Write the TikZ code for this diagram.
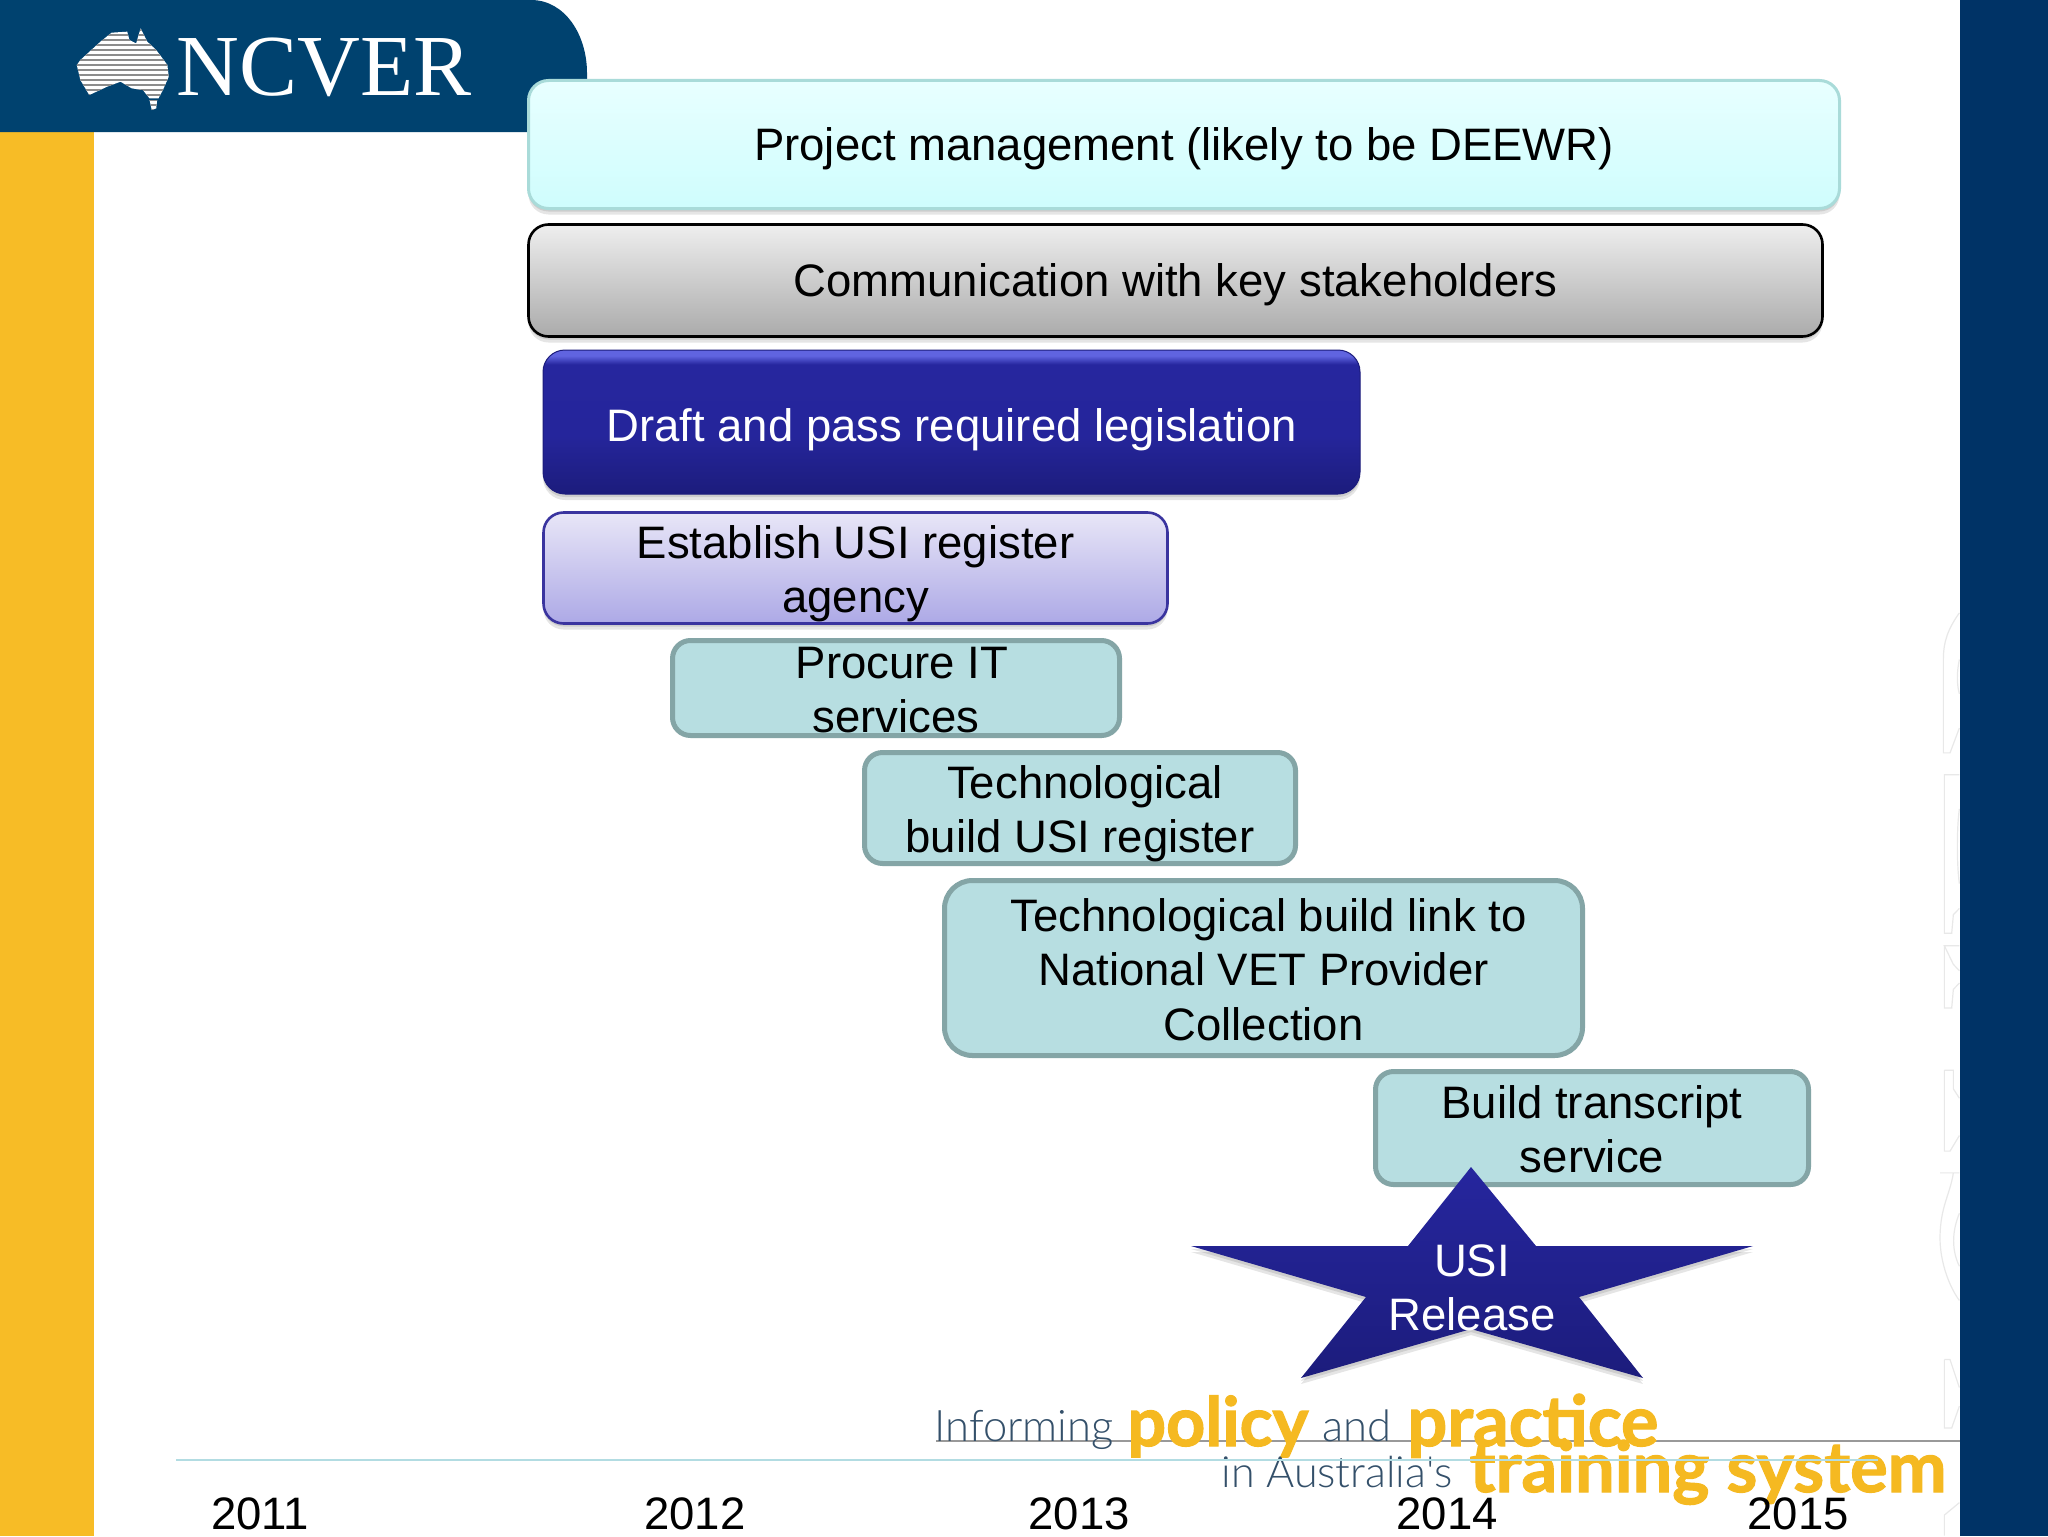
\documentclass[tikz,border=0pt]{standalone}
\usepackage{fontspec}
\usepackage{graphicx}
\usetikzlibrary{shadows}
\setmainfont{Liberation Sans}
\newfontfamily\ncverfont{Liberation Serif}
\newfontfamily\tagfont{Lato Light}
\newfontfamily\tagheavy[BoldFeatures={FakeBold=1.6}]{Lato}
\definecolor{bannerblue}{HTML}{00426F}
\definecolor{panelblue}{HTML}{003366}
\definecolor{baryellow}{HTML}{F7BC26}
\definecolor{tealfill}{HTML}{B7DEE1}
\definecolor{tealline}{HTML}{84A5A6}
\definecolor{tagdark}{HTML}{34506A}
\definecolor{taggold}{HTML}{F5B921}
\definecolor{ruleteal}{HTML}{B2DCE2}
\definecolor{g3dark}{HTML}{1C1C7C}
\definecolor{g3mid}{HTML}{26269E}
\definecolor{g3light}{HTML}{6064E0}
\definecolor{HTMLmgmt}{HTML}{A9DBD9}
\definecolor{HTMLmgmtT}{HTML}{E8FFFF}
\definecolor{HTMLmgmtB}{HTML}{CFFDFD}
\definecolor{HTMLcommT}{HTML}{EEEEEE}
\definecolor{HTMLcommB}{HTML}{ABABAB}
\definecolor{HTMLreg}{HTML}{3A349F}
\definecolor{HTMLregT}{HTML}{E8E6F7}
\definecolor{HTMLregB}{HTML}{ADA9E6}
\pgfdeclareverticalshading{legisshade}{100bp}{color(0bp)=(g3dark); color(25bp)=(g3dark); color(45bp)=(g3mid!90!g3dark); color(70bp)=(g3mid); color(73bp)=(g3light); color(75bp)=(g3light); color(100bp)=(g3light)}
\tikzset{
  softshadow/.style={general shadow={fill=black,opacity=.10,shadow yshift=-1.5pt},general shadow={fill=black,opacity=.10,shadow yshift=-3pt}},
  boxbase/.style={draw,inner sep=0pt,outer sep=0pt},
  mgmtbox/.style={boxbase,softshadow,draw=HTMLmgmt,line width=1.5pt,top color=HTMLmgmtT,bottom color=HTMLmgmtB,rounded corners=10pt},
  commbox/.style={boxbase,softshadow,draw=black,line width=1.3pt,top color=HTMLcommT,bottom color=HTMLcommB,rounded corners=10pt},
  legisbox/.style={boxbase,softshadow,draw=g3dark,line width=.5pt,shading=legisshade,rounded corners=11pt},
  regbox/.style={boxbase,softshadow,draw=HTMLreg,line width=1.3pt,top color=HTMLregT,bottom color=HTMLregB,rounded corners=10pt},
  buildbox/.style={boxbase,draw=tealline,line width=2.5pt,fill=tealfill,rounded corners=9pt},
  boxtext/.style={align=center,inner sep=0pt,font=\fontsize{22.75}{27.2}\selectfont},
  yearlabel/.style={anchor=base,inner sep=0pt,font=\fontsize{22.75}{27}\selectfont},
  taglabel/.style={anchor=base west,inner sep=0pt},
  faintline/.style={draw=black!9,line width=.6pt},
}
\begin{document}
\begin{tikzpicture}[x=0.5pt,y=-0.5pt]
\useasboundingbox (0,0) rectangle (2048,1536);
\fill[white] (0,0) rectangle (2048,1536);

% side bars and banner
\fill[baryellow] (0,132) rectangle (94,1536);
\fill[panelblue] (1960,0) rectangle (2048,1536);
\fill[bannerblue] (0,0) -- (531,0) .. controls (565,0) and (587,35) .. (587,73) -- (587,132) -- (0,132) -- cycle;

% faint watermark at the right edge
\begin{scope}[shift={(1900,560)},x=0.1667pt,y=-0.3111pt]
  \draw[faintline] (178,85) .. controls (145,110) and (130,130) .. (130,160) -- (130,310) -- (150,310) -- (178,270);
  \draw[faintline] (178,160) .. controls (170,180) and (170,200) .. (178,215);
  \draw[faintline] (178,345) -- (133,345) -- (133,600) -- (155,600) -- (160,570) -- (178,560);
  \draw[faintline] (178,400) .. controls (170,430) and (170,490) .. (178,520);
  \draw[faintline] (178,620) -- (133,620) -- (160,650) -- (178,660);
  \draw[faintline] (133,620) -- (133,720) -- (155,720) -- (160,690) -- (178,680);
  \draw[faintline] (133,820) -- (160,820) -- (160,850) -- (178,865);
  \draw[faintline] (133,820) -- (133,950) -- (150,950) -- (178,925);
  \draw[faintline] (178,985) -- (120,985) -- (160,985) .. controls (150,1020) and (120,1040) .. (120,1090) .. controls (120,1130) and (150,1170) .. (178,1190);
  \draw[faintline] (178,1050) .. controls (155,1080) and (155,1110) .. (178,1135);
  \draw[faintline] (133,1285) -- (150,1285) -- (178,1330);
  \draw[faintline] (133,1285) -- (133,1395) -- (155,1395) -- (178,1360);
  \draw[faintline] (178,1515) -- (133,1535) -- (133,1568);
\end{scope}

% NCVER logo
\begin{scope}[x=0.2232pt,y=-0.1667pt]
  \begin{scope}
    \clip (172,195) -- (180,180) -- (225,125) -- (250,98) -- (285,95) -- (290,120) -- (305,130) -- (315,85) -- (330,125) -- (350,150) -- (375,195) -- (378,230) -- (365,270) -- (355,295) -- (335,295) -- (320,270) -- (295,265) -- (270,245) -- (240,260) -- (200,285) -- (180,240) -- cycle
          (335,300) -- (352,300) -- (350,325) -- (340,330) -- cycle;
    \fill[white] (160,80) rectangle (390,335);
    \foreach \yy in {90,105,...,330} \draw[black!45,line width=1.1pt] (160,\yy) -- (390,\yy);
  \end{scope}
\end{scope}
\node[anchor=base west,inner sep=0pt,text=white] (ncver) at (176,96) {\ncverfont\fontsize{43.5}{44}\selectfont NCVER};

% tagline and rules
\coordinate (grayA) at (936,1441);
\coordinate (grayB) at (1960,1441);
\draw[black!40,line width=1pt] (grayA) -- (grayB);
\node[taglabel,text=tagdark] (tagA) at (934,1441) {\resizebox{89.5pt}{!}{\tagfont\fontsize{24}{24}\selectfont Informing}};
\node[taglabel,text=taggold] (tagB) at (1127,1446) {\resizebox{90.5pt}{!}{\tagheavy\bfseries\fontsize{24}{24}\selectfont policy}};
\node[taglabel,text=tagdark] (tagC) at (1322,1441) {\resizebox{34.5pt}{!}{\tagfont\fontsize{24}{24}\selectfont and}};
\node[taglabel,text=taggold] (tagD) at (1407,1446) {\resizebox{125.5pt}{!}{\tagheavy\bfseries\fontsize{24}{24}\selectfont practice}};
\node[taglabel,text=tagdark] (tagE) at (1221,1487) {\resizebox{115.5pt}{!}{\tagfont\fontsize{24}{24}\selectfont in Australia's}};
\node[taglabel,text=taggold] (tagF) at (1469,1492) {\resizebox{238.5pt}{!}{\tagheavy\bfseries\fontsize{24}{24}\selectfont training system}};
\coordinate (ruleA) at (176,1460);
\coordinate (ruleB) at (1878,1460);
\draw[ruleteal,line width=1.2pt] (ruleA) -- (ruleB);

% boxes
\node[mgmtbox,minimum width=655.5pt,minimum height=64pt] (mgmt) at (1184,144.5) {};
\node[boxtext] (mgmtT) at (1184,149) {Project management (likely to be DEEWR)};
\node[commbox,minimum width=647pt,minimum height=56pt] (comm) at (1175.5,280.5) {};
\node[boxtext] (commT) at (1175.5,285) {Communication with key stakeholders};
\node[legisbox,minimum width=408.5pt,minimum height=72pt] (legis) at (951.5,422) {};
\node[boxtext,text=white] (legisT) at (951.5,430) {Draft and pass required legislation};
\node[regbox,minimum width=312pt,minimum height=55.5pt] (reg) at (855.5,568) {};
\node[boxtext] (regT) at (855.5,574) {Establish USI register\\agency};
\node[buildbox,minimum width=223.5pt,minimum height=47.5pt] (procure) at (896,688) {};
\node[boxtext] (procureT) at (896,690) {\hspace*{6pt}Procure IT\\services};
\node[buildbox,minimum width=215.5pt,minimum height=55.5pt] (buildreg) at (1080,808) {};
\node[boxtext] (buildregT) at (1080,814) {\hspace*{5pt}Technological\\build USI register};
\node[buildbox,minimum width=319pt,minimum height=87.5pt,rounded corners=14pt] (buildlink) at (1263.5,968) {};
\node[boxtext] (buildlinkT) at (1263.5,969.5) {\hspace*{5pt}Technological build link to\\National VET Provider\\Collection};
\node[buildbox,minimum width=216.5pt,minimum height=56.5pt] (transcript) at (1592,1128) {};
\node[boxtext] (transcriptT) at (1592,1129.5) {Build transcript\\service};

% star
\path[top color=g3mid,bottom color=g3dark,softshadow]
  (1471,1167) -- (1536,1246) -- (1753,1246) -- (1579,1297) -- (1643,1378) -- (1471,1329) -- (1301,1378) -- (1366,1297) -- (1191,1246) -- (1408,1246) -- cycle;
\node[boxtext,text=white] (release) at (1472,1288) {USI\\Release};

% years
\node[yearlabel] (y2011) at (260,1529) {2011};
\node[yearlabel] (y2012) at (695,1529) {2012};
\node[yearlabel] (y2013) at (1079,1529) {2013};
\node[yearlabel] (y2014) at (1447,1529) {2014};
\node[yearlabel] (y2015) at (1798,1529) {2015};
\end{tikzpicture}
\end{document}
